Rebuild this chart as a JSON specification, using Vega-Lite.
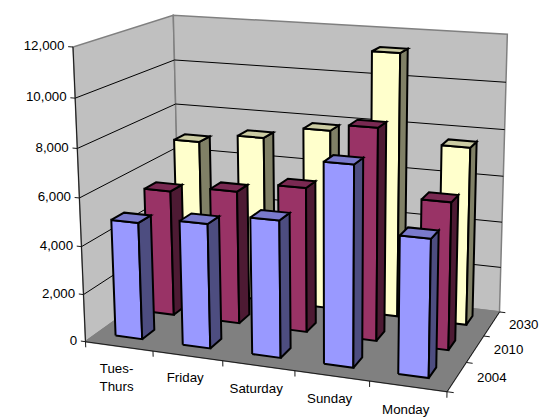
{
"$schema":"https://vega.github.io/schema/vega-lite/v6.json",
"width":545,"height":419,"padding":0,"autosize":{"type":"none"},"background":"white",
"config":{"view":{"stroke":null},"font":"Liberation Sans"},
"resolve":{"scale":{"fill":"independent"}},
"params":[
{"name":"Ox","value":85.5},{"name":"Oy","value":341.7},
{"name":"Ax","value":447},{"name":"Ay","value":391.7},
{"name":"Bx","value":180},{"name":"By","value":274},
{"name":"Cx","value":73},{"name":"Cy","value":47},
{"name":"a","value":0.918},{"name":"b","value":1.145},{"name":"c","value":0.952}
],
"data":{"values":[
{"day":"Tues-Thurs","year":"2030","sales":6860},{"day":"Friday","year":"2030","sales":7280},{"day":"Saturday","year":"2030","sales":7830},{"day":"Sunday","year":"2030","sales":11300},{"day":"Monday","year":"2030","sales":7600},
{"day":"Tues-Thurs","year":"2010","sales":5420},{"day":"Friday","year":"2010","sales":5690},{"day":"Saturday","year":"2010","sales":6120},{"day":"Sunday","year":"2010","sales":8830},{"day":"Monday","year":"2010","sales":6100},
{"day":"Tues-Thurs","year":"2004","sales":4900},{"day":"Friday","year":"2004","sales":5160},{"day":"Saturday","year":"2004","sales":5600},{"day":"Sunday","year":"2004","sales":8070},{"day":"Monday","year":"2004","sales":5500}
]},
"layer":[
{"data":{"values":[{"part":"left"},{"part":"back"},{"part":"floor"}]},
"transform":[
{"calculate":"[0,1,2,3,4]","as":"vertex"},{"flatten":["vertex"]},
{"calculate":"datum.vertex%4","as":"n"},
{"calculate":"datum.part=='left'?0:(datum.part=='back'?(datum.n==1||datum.n==2?1:0):(datum.n==1||datum.n==2?1:0))","as":"u"},
{"calculate":"datum.part=='back'?1:(datum.part=='left'?(datum.n==1||datum.n==2?1:0):(datum.n>=2?1:0))","as":"v"},
{"calculate":"datum.part=='floor'?0:(datum.n>=2?1:0)","as":"w"},
{"calculate":"(Ox+datum.u*(a*Ax-Ox)+datum.v*(b*Bx-Ox)+datum.w*(c*Cx-Ox))/(1+datum.u*(a-1)+datum.v*(b-1)+datum.w*(c-1))","as":"px"},
{"calculate":"(Oy+datum.u*(a*Ay-Oy)+datum.v*(b*By-Oy)+datum.w*(c*Cy-Oy))/(1+datum.u*(a-1)+datum.v*(b-1)+datum.w*(c-1))","as":"py"}
],
"mark":{"type":"line","stroke":"#808080","strokeWidth":1.5,"strokeJoin":"miter"},
"encoding":{
"x":{"field":"px","type":"quantitative","scale":{"domain":[0,545]},"axis":null},
"y":{"field":"py","type":"quantitative","scale":{"domain":[419,0]},"axis":null},
"order":{"field":"vertex"},
"detail":{"field":"part"},
"fill":{"field":"part","type":"nominal","legend":null,"scale":{"domain":["left","back","floor"],"range":["#C0C0C0","#C0C0C0","#808080"]}}
}},
{"data":{"values":[{"grid":2000},{"grid":4000},{"grid":6000},{"grid":8000},{"grid":10000}]},
"transform":[
{"calculate":"[0,1,2]","as":"vertex"},{"flatten":["vertex"]},
{"calculate":"datum.vertex==2?1:0","as":"u"},
{"calculate":"datum.vertex>=1?1:0","as":"v"},
{"calculate":"datum.grid/12000","as":"w"},
{"calculate":"(Ox+datum.u*(a*Ax-Ox)+datum.v*(b*Bx-Ox)+datum.w*(c*Cx-Ox))/(1+datum.u*(a-1)+datum.v*(b-1)+datum.w*(c-1))","as":"px"},
{"calculate":"(Oy+datum.u*(a*Ay-Oy)+datum.v*(b*By-Oy)+datum.w*(c*Cy-Oy))/(1+datum.u*(a-1)+datum.v*(b-1)+datum.w*(c-1))","as":"py"}
],
"mark":{"type":"line","stroke":"#000000","strokeWidth":1},
"encoding":{
"x":{"field":"px","type":"quantitative","scale":{"domain":[0,545]},"axis":null},
"y":{"field":"py","type":"quantitative","scale":{"domain":[419,0]},"axis":null},
"order":{"field":"vertex"},
"detail":{"field":"grid"}
}},
{"data":{"values":[
{"axis":"value","k":0},{"axis":"value","k":1},{"axis":"value","k":2},{"axis":"value","k":3},{"axis":"value","k":4},{"axis":"value","k":5},{"axis":"value","k":6},
{"axis":"day","k":0},{"axis":"day","k":1},{"axis":"day","k":2},{"axis":"day","k":3},{"axis":"day","k":4},{"axis":"day","k":5},
{"axis":"year","k":0},{"axis":"year","k":1},{"axis":"year","k":2},{"axis":"year","k":3},
{"axis":"edge","k":0},{"axis":"edge","k":1},{"axis":"edge","k":2}
]},
"transform":[
{"calculate":"[0,1]","as":"vertex"},{"flatten":["vertex"]},
{"calculate":"datum.axis+datum.k","as":"id"},
{"calculate":"datum.axis=='value'?(datum.vertex==0?-0.014:0):datum.axis=='day'?datum.k/5:datum.axis=='year'?(datum.vertex==0?1:1.017):(datum.k==0?0:datum.k==1?datum.vertex:1)","as":"u"},
{"calculate":"datum.axis=='year'?datum.k/3:(datum.axis=='edge'&&datum.k==2?datum.vertex:0)","as":"v"},
{"calculate":"datum.axis=='value'?datum.k/6:datum.axis=='day'?(datum.vertex==0?0:-0.02):(datum.axis=='edge'&&datum.k==0?datum.vertex:0)","as":"w"},
{"calculate":"(Ox+datum.u*(a*Ax-Ox)+datum.v*(b*Bx-Ox)+datum.w*(c*Cx-Ox))/(1+datum.u*(a-1)+datum.v*(b-1)+datum.w*(c-1))","as":"px"},
{"calculate":"(Oy+datum.u*(a*Ay-Oy)+datum.v*(b*By-Oy)+datum.w*(c*Cy-Oy))/(1+datum.u*(a-1)+datum.v*(b-1)+datum.w*(c-1))","as":"py"}
],
"mark":{"type":"line","stroke":"#1a1a1a","strokeWidth":1},
"encoding":{
"x":{"field":"px","type":"quantitative","scale":{"domain":[0,545]},"axis":null},
"y":{"field":"py","type":"quantitative","scale":{"domain":[419,0]},"axis":null},
"order":{"field":"vertex"},
"detail":{"field":"id"}
}},
{"transform":[
{"calculate":"indexof(['Tues-Thurs','Friday','Saturday','Sunday','Monday'],datum.day)","as":"di"},
{"calculate":"indexof(['2004','2010','2030'],datum.year)","as":"yi"},
{"calculate":"['front','side','top']","as":"face"},{"flatten":["face"]},
{"calculate":"[0,1,2,3,4]","as":"vertex"},{"flatten":["vertex"]},
{"calculate":"datum.vertex%4","as":"n"},
{"calculate":"datum.year+datum.day+datum.face","as":"id"},
{"calculate":"datum.year+'-'+datum.face","as":"tone"},
{"calculate":"(datum.di+0.5)/5-0.005+((datum.face=='side'||datum.n==1||datum.n==2)?0.04:-0.04)","as":"u"},
{"calculate":"(datum.yi+0.5)/3+0.008+(datum.face=='front'?-0.062:datum.face=='side'?(datum.n==1||datum.n==2?0.062:-0.062):(datum.n>=2?0.062:-0.062))","as":"v"},
{"calculate":"(datum.face=='top'||datum.n>=2)?datum.sales/12000:0","as":"w"},
{"calculate":"(Ox+datum.u*(a*Ax-Ox)+datum.v*(b*Bx-Ox)+datum.w*(c*Cx-Ox))/(1+datum.u*(a-1)+datum.v*(b-1)+datum.w*(c-1))","as":"px"},
{"calculate":"(Oy+datum.u*(a*Ay-Oy)+datum.v*(b*By-Oy)+datum.w*(c*Cy-Oy))/(1+datum.u*(a-1)+datum.v*(b-1)+datum.w*(c-1))","as":"py"}
],
"mark":{"type":"line","stroke":"#000000","strokeWidth":2,"strokeJoin":"miter"},
"encoding":{
"x":{"field":"px","type":"quantitative","scale":{"domain":[0,545]},"axis":null},
"y":{"field":"py","type":"quantitative","scale":{"domain":[419,0]},"axis":null},
"order":{"field":"vertex"},
"detail":{"field":"id"},
"fill":{"field":"tone","type":"nominal","legend":null,"scale":{
"domain":["2004-front","2004-side","2004-top","2010-front","2010-side","2010-top","2030-front","2030-side","2030-top"],
"range":["#9999FF","#4D4D80","#7A7ACC","#993366","#4D1A33","#7A2952","#FFFFCC","#808066","#CCCCA3"]}}
}},
{"data":{"values":[{"tick":0},{"tick":2000},{"tick":4000},{"tick":6000},{"tick":8000},{"tick":10000},{"tick":12000}]},
"transform":[
{"calculate":"-0.025","as":"u"},{"calculate":"0","as":"v"},{"calculate":"datum.tick/12000","as":"w"},
{"calculate":"(Ox+datum.u*(a*Ax-Ox)+datum.v*(b*Bx-Ox)+datum.w*(c*Cx-Ox))/(1+datum.u*(a-1)+datum.v*(b-1)+datum.w*(c-1))","as":"px"},
{"calculate":"(Oy+datum.u*(a*Ay-Oy)+datum.v*(b*By-Oy)+datum.w*(c*Cy-Oy))/(1+datum.u*(a-1)+datum.v*(b-1)+datum.w*(c-1))","as":"py"}
],
"mark":{"type":"text","align":"right","baseline":"middle","font":"Liberation Sans","fontSize":13.3,"color":"#000000"},
"encoding":{
"x":{"field":"px","type":"quantitative","scale":{"domain":[0,545]},"axis":null},
"y":{"field":"py","type":"quantitative","scale":{"domain":[419,0]},"axis":null},
"text":{"field":"tick","type":"quantitative","format":","}
}},
{"data":{"values":[{"label":"Tues-\nThurs"},{"label":"Friday"},{"label":"Saturday"},{"label":"Sunday"},{"label":"Monday"}]},
"transform":[
{"calculate":"indexof(['Tues-\\nThurs','Friday','Saturday','Sunday','Monday'],datum.label)","as":"di"},
{"calculate":"(datum.di+0.5)/5","as":"u"},{"calculate":"-0.03","as":"v"},{"calculate":"-0.07","as":"w"},
{"calculate":"(Ox+datum.u*(a*Ax-Ox)+datum.v*(b*Bx-Ox)+datum.w*(c*Cx-Ox))/(1+datum.u*(a-1)+datum.v*(b-1)+datum.w*(c-1))","as":"px"},
{"calculate":"(Oy+datum.u*(a*Ay-Oy)+datum.v*(b*By-Oy)+datum.w*(c*Cy-Oy))/(1+datum.u*(a-1)+datum.v*(b-1)+datum.w*(c-1))","as":"py"}
],
"mark":{"type":"text","align":"center","baseline":"middle","font":"Liberation Sans","fontSize":13.3,"lineBreak":"\n","lineHeight":18,"color":"#000000"},
"encoding":{
"x":{"field":"px","type":"quantitative","scale":{"domain":[0,545]},"axis":null},
"y":{"field":"py","type":"quantitative","scale":{"domain":[419,0]},"axis":null},
"text":{"field":"label","type":"nominal"}
}},
{"data":{"values":[{"label":"2004"},{"label":"2010"},{"label":"2030"}]},
"transform":[
{"calculate":"indexof(['2004','2010','2030'],datum.label)","as":"yi"},
{"calculate":"1.09","as":"u"},{"calculate":"(datum.yi+0.5)/3","as":"v"},{"calculate":"0.01","as":"w"},
{"calculate":"(Ox+datum.u*(a*Ax-Ox)+datum.v*(b*Bx-Ox)+datum.w*(c*Cx-Ox))/(1+datum.u*(a-1)+datum.v*(b-1)+datum.w*(c-1))","as":"px"},
{"calculate":"(Oy+datum.u*(a*Ay-Oy)+datum.v*(b*By-Oy)+datum.w*(c*Cy-Oy))/(1+datum.u*(a-1)+datum.v*(b-1)+datum.w*(c-1))","as":"py"}
],
"mark":{"type":"text","align":"center","baseline":"middle","font":"Liberation Sans","fontSize":13.3,"color":"#000000"},
"encoding":{
"x":{"field":"px","type":"quantitative","scale":{"domain":[0,545]},"axis":null},
"y":{"field":"py","type":"quantitative","scale":{"domain":[419,0]},"axis":null},
"text":{"field":"label","type":"nominal"}
}}
]
}
